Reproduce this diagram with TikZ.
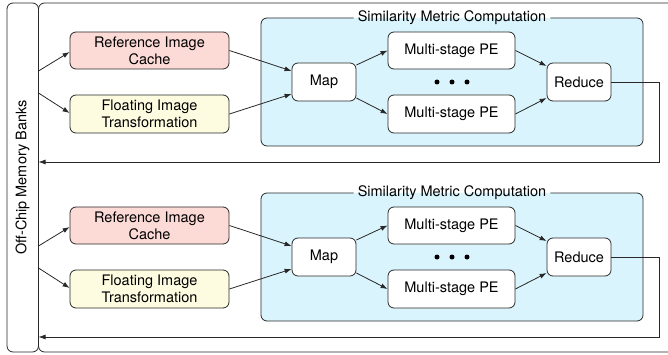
\documentclass[tikz,border=0pt]{standalone}
\usepackage{fontspec}
\setmainfont{TeX Gyre Heros}
\usetikzlibrary{arrows.meta,calc}

\definecolor{refpink}{RGB}{252,218,214}
\definecolor{fltyellow}{RGB}{254,252,224}
\definecolor{smcblue}{RGB}{217,244,252}
\definecolor{edge}{RGB}{40,40,40}

\tikzset{
  box/.style={draw=edge, line width=0.8pt, rounded corners=6pt, align=center,
    inner sep=0pt, font=\fontsize{14.5}{16.7}\selectfont},
  arr/.style={draw=edge, line width=0.8pt, -{Latex[length=7pt,width=5pt]}},
  plain/.style={draw=edge, line width=0.8pt},
  dot/.style={circle, fill=black, inner sep=0pt, minimum size=5pt},
}

\begin{document}
\begin{tikzpicture}[x=1pt,y=-1pt]
\useasboundingbox (0,0) rectangle (668,355);
\begin{scope}
\clip (0,0) rectangle (668,355);

% off-chip memory banks and the accelerator frame
\draw[plain, rounded corners=6pt] (7,3) rectangle (38.5,352);
\node[rotate=90, font=\fontsize{14.5}{16.7}\selectfont] (mem) at (22.5,177.5) {Off-Chip Memory Banks};
\draw[plain, rounded corners=6pt] (38.5,3) rectangle (690,352);

\foreach \i/\dy in {1/0, 2/175} {
  \begin{scope}[yshift=-\dy pt]
    % similarity metric computation region
    \fill[smcblue, rounded corners=6pt] (261,18) rectangle (643,146);
    \node[font=\fontsize{14.5}{16.7}\selectfont, inner sep=4pt] (smc\i) at (452,18) {Similarity Metric Computation};
    \draw[plain, rounded corners=6pt] (smc\i.east) -- (643,18) -- (643,146) -- (261,146) -- (261,18) -- (smc\i.west);

    \node[box, fill=refpink, minimum width=159pt, minimum height=37pt] (ref\i) at (149.5,50.5) {Reference Image\\Cache};
    \node[box, fill=fltyellow, minimum width=159pt, minimum height=38pt] (flt\i) at (149.5,114) {Floating Image\\Transformation};
    \node[box, fill=white, minimum width=64pt, minimum height=38pt] (map\i) at (324,82) {Map};
    \node[box, fill=white, minimum width=127pt, minimum height=37pt] (pea\i) at (451.5,50.5) {Multi-stage PE};
    \node[box, fill=white, minimum width=127pt, minimum height=38pt] (peb\i) at (451.5,114) {Multi-stage PE};
    \node[box, fill=white, minimum width=64pt, minimum height=38pt] (red\i) at (579,82) {Reduce};
    \node[dot] (da\i) at (437,82) {};
    \node[dot] (db\i) at (452,82) {};
    \node[dot] (dc\i) at (467,82) {};

    \coordinate (ma\i) at (38.5,71);
    \coordinate (mb\i) at (38.5,93);
    \coordinate (turn\i) at (659,82);
    \coordinate (back\i) at (659,162);
    \coordinate (ret\i) at (38.5,162);

    \draw[arr] (ma\i) -- ($(ref\i.west)+(0,1.5)$);
    \draw[arr] (mb\i) -- ($(flt\i.west)+(0,-1)$);
    \draw[arr] (ref\i.east) -- ($(map\i.west)+(0,-11)$);
    \draw[arr] (flt\i.east) -- ($(map\i.west)+(0,12)$);
    \draw[arr] ($(map\i.east)+(0,-17)$) -- (pea\i.west);
    \draw[arr] ($(map\i.east)+(0,16)$) -- (peb\i.west);
    \draw[arr] (pea\i.east) -- ($(red\i.west)+(0,-16)$);
    \draw[arr] (peb\i.east) -- ($(red\i.west)+(0,16)$);
    \draw[arr] (red\i.east) -- (turn\i) -- (back\i) -- (ret\i);
  \end{scope}
}
\end{scope}
\end{tikzpicture}
\end{document}
